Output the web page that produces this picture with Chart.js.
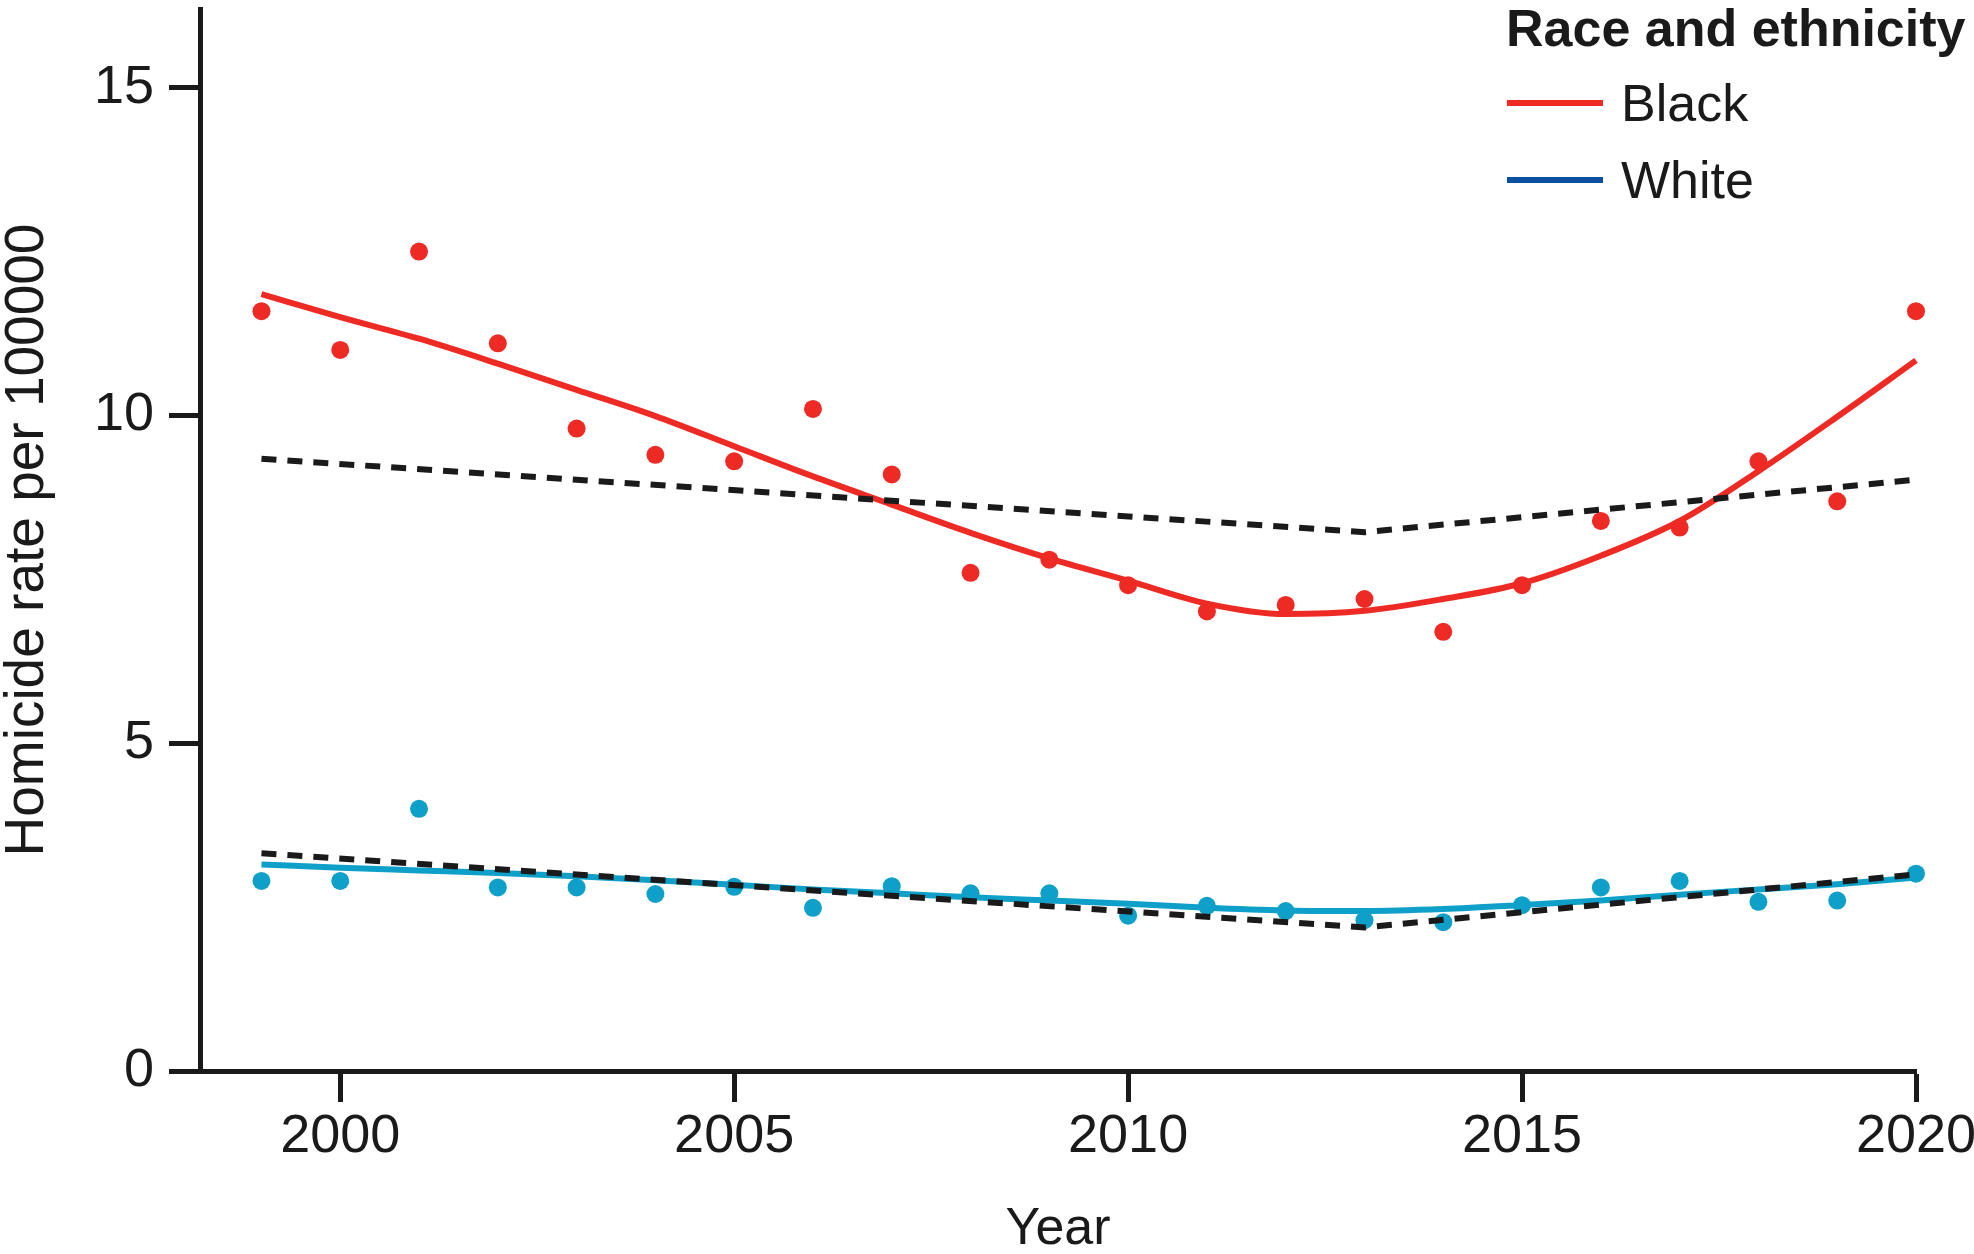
<!DOCTYPE html>
<html>
<head>
<meta charset="utf-8">
<title>Homicide rate by race and ethnicity</title>
<script src="https://cdn.jsdelivr.net/npm/chart.js@4/dist/chart.umd.min.js"></script>
<style>
    html, body { margin: 0; padding: 0; background: #fff; }
    #wrap { width: 1974px; height: 1254px; position: relative; }
</style>
</head>
<body>
<div id="wrap"><canvas id="rateChart"></canvas></div>
<script>
// Data
const years = [1999, 2000, 2001, 2002, 2003, 2004, 2005, 2006, 2007, 2008, 2009,
               2010, 2011, 2012, 2013, 2014, 2015, 2016, 2017, 2018, 2019, 2020];

// observed rates per 100000
const blackRates = [11.59, 11.00, 12.50, 11.10, 9.80, 9.40, 9.30, 10.10, 9.10, 7.60, 7.80,
                    7.41, 7.01, 7.11, 7.20, 6.70, 7.41, 8.39, 8.29, 9.30, 8.69, 11.59];
const whiteRates = [2.90, 2.90, 4.00, 2.80, 2.80, 2.70, 2.81, 2.49, 2.82, 2.71, 2.71,
                    2.37, 2.52, 2.44, 2.30, 2.27, 2.53, 2.80, 2.90, 2.58, 2.60, 3.01];

// smoothed fits
const blackFit = [11.85, 11.50, 11.17, 10.79, 10.39, 9.99, 9.53, 9.07, 8.64, 8.21, 7.82,
                  7.48, 7.13, 6.97, 7.02, 7.20, 7.44, 7.86, 8.39, 9.15, 9.98, 10.84];
const whiteFit = [3.15, 3.10, 3.06, 3.02, 2.97, 2.91, 2.84, 2.77, 2.71, 2.65, 2.60,
                  2.55, 2.49, 2.45, 2.44, 2.47, 2.53, 2.60, 2.69, 2.77, 2.85, 2.95];

// joinpoint trends (dashed)
const trendYears = [1999, 2013, 2020];
const blackTrend = [9.34, 8.22, 9.02];
const whiteTrend = [3.32, 2.19, 3.00];

const xTickValues = [2000, 2005, 2010, 2015, 2020];
const yTickValues = [0, 5, 10, 15];

const groupNames = ['Black', 'White'];
const legendTitle = 'Race and ethnicity';

const RED = '#ee2a24';
const CYAN = '#0ea0c8';
const LEGEND_BLUE = '#0b50a0';
const INK = '#1a1a1a';
const FONT = "'Liberation Sans', Arial, sans-serif";

function pts(xs, ys) {
    return xs.map((x, i) => ({ x: x, y: ys[i] }));
}

// legend drawn in the top right corner like the original
const cornerLegend = {
    id: 'cornerLegend',
    afterDraw(chart) {
        const ctx = chart.ctx;
        const colours = [RED, LEGEND_BLUE];
        ctx.save();
        ctx.fillStyle = INK;
        ctx.textAlign = 'left';
        ctx.textBaseline = 'alphabetic';
        ctx.font = 'bold 52px ' + FONT;
        ctx.fillText(legendTitle, 1506, 46);

        ctx.font = '52px ' + FONT;
        groupNames.forEach((name, i) => {
            const lineY = 103 + i * 77;
            ctx.strokeStyle = colours[i];
            ctx.lineWidth = 6;
            ctx.beginPath();
            ctx.moveTo(1507, lineY);
            ctx.lineTo(1603, lineY);
            ctx.stroke();
            ctx.fillStyle = INK;
            ctx.fillText(name, 1621, lineY + 18);
        });
        ctx.restore();
    }
};

const ctx = document.getElementById('rateChart').getContext('2d');

new Chart(ctx, {
    type: 'line',
    data: {
        datasets: [
            {
                label: 'Black trend',
                data: pts(trendYears, blackTrend),
                borderColor: INK,
                borderWidth: 6,
                borderDash: [15, 11],
                pointRadius: 0,
                tension: 0,
                clip: false,
                order: 1
            },
            {
                label: 'White trend',
                data: pts(trendYears, whiteTrend),
                borderColor: INK,
                borderWidth: 6,
                borderDash: [15, 11],
                pointRadius: 0,
                tension: 0,
                clip: false,
                order: 1
            },
            {
                label: groupNames[0] + ' fit',
                data: pts(years, blackFit),
                borderColor: RED,
                borderWidth: 6,
                pointRadius: 0,
                cubicInterpolationMode: 'monotone',
                clip: false,
                order: 2
            },
            {
                label: groupNames[1] + ' fit',
                data: pts(years, whiteFit),
                borderColor: CYAN,
                borderWidth: 6,
                pointRadius: 0,
                cubicInterpolationMode: 'monotone',
                clip: false,
                order: 2
            },
            {
                label: groupNames[0],
                data: pts(years, blackRates),
                showLine: false,
                pointRadius: 9,
                pointBorderWidth: 0,
                pointBackgroundColor: RED,
                clip: false,
                order: 3
            },
            {
                label: groupNames[1],
                data: pts(years, whiteRates),
                showLine: false,
                pointRadius: 9,
                pointBorderWidth: 0,
                pointBackgroundColor: CYAN,
                clip: false,
                order: 3
            }
        ]
    },
    options: {
        responsive: true,
        maintainAspectRatio: false,
        animation: false,
        events: [],
        layout: {
            padding: { top: 0, right: 58, bottom: 0, left: 0 }
        },
        plugins: {
            legend: { display: false },
            tooltip: { enabled: false }
        },
        scales: {
            x: {
                type: 'linear',
                min: 1998.22,
                max: 2020,
                afterBuildTicks: scale => {
                    scale.ticks = xTickValues.map(v => ({ value: v }));
                },
                afterFit: scale => {
                    scale.height = 183;
                    scale.paddingLeft = 0;
                    scale.paddingRight = 0;
                },
                ticks: {
                    color: INK,
                    padding: 3,
                    maxRotation: 0,
                    autoSkip: false,
                    font: { family: FONT, size: 54 },
                    callback: v => String(v)
                },
                grid: {
                    display: true,
                    drawOnChartArea: false,
                    drawTicks: true,
                    tickLength: 31,
                    tickWidth: 5,
                    tickColor: INK
                },
                border: { display: true, color: INK, width: 5 },
                title: {
                    display: true,
                    text: 'Year',
                    color: INK,
                    font: { family: FONT, size: 52, lineHeight: 1 },
                    padding: { top: 0, bottom: -2 }
                }
            },
            y: {
                min: 0,
                max: 16.2,
                afterBuildTicks: scale => {
                    scale.ticks = yTickValues.map(v => ({ value: v }));
                },
                afterFit: scale => {
                    scale.width = 200;
                    scale.paddingTop = 0;
                    scale.paddingBottom = 0;
                },
                ticks: {
                    color: INK,
                    padding: 15,
                    autoSkip: false,
                    font: { family: FONT, size: 54 },
                    callback: v => String(v)
                },
                grid: {
                    display: true,
                    drawOnChartArea: false,
                    drawTicks: true,
                    tickLength: 31,
                    tickWidth: 5,
                    tickColor: INK
                },
                border: { display: true, color: INK, width: 5 },
                title: {
                    display: true,
                    text: 'Homicide rate per 100000',
                    color: INK,
                    font: { family: FONT, size: 55, lineHeight: 1 },
                    padding: { top: 0, bottom: 0 }
                }
            }
        }
    },
    plugins: [cornerLegend]
});
</script>
</body>
</html>
